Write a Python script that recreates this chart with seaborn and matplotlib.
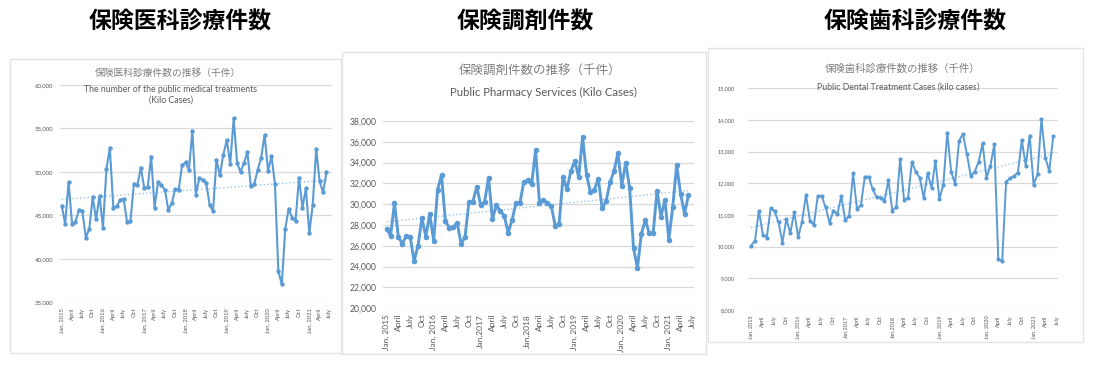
##
# Monthly public insurance case counts (medical, pharmacy, dental), Jan 2015 - Jun 2021
# Three Excel-style line charts with a linear trend line each
##

import numpy as np
import pandas as pd
import matplotlib

matplotlib.use("Agg")
import matplotlib.pyplot as plt
from matplotlib.patches import Rectangle
from matplotlib.ticker import FuncFormatter
import seaborn as sns

# Monthly values in thousands of cases, Jan 2015 .. Jun 2021
medical = [
    46100, 44050, 48800, 44050, 44250, 45650, 45500, 42450, 43400, 47100,
    44550, 47250, 43600, 50350, 52750, 45900, 46050, 46800, 46900, 44250,
    44400, 48650, 48500, 50500, 48150, 48250, 51750, 45900, 48850, 48450,
    47950, 45650, 46400, 48050, 47900, 50750, 51100, 50250, 54750, 47400,
    49250, 49100, 48750, 46250, 45450, 51400, 49600, 52000, 53650, 50900,
    56150, 51050, 50000, 51050, 52250, 48350, 48650, 50250, 51650, 54250,
    50100, 51800, 48650, 38600, 37050, 43450, 45750, 44750, 44400, 49350,
    45900, 48100, 42950, 46250, 52650, 48900, 47650, 49950,
]
pharmacy = [
    27650, 26950, 30100, 26850, 26200, 26950, 26900, 24550, 26000, 28650,
    26900, 29050, 26500, 31400, 32800, 28350, 27750, 27800, 28200, 26200,
    26850, 30200, 30250, 31700, 29900, 30250, 32550, 28600, 29900, 29350,
    28900, 27250, 28500, 30100, 30100, 32150, 32300, 31900, 35200, 30150,
    30450, 30100, 29850, 27950, 28100, 32600, 31450, 33200, 34150, 32600,
    36450, 32850, 31150, 31400, 32450, 29600, 30300, 32100, 33150, 34900,
    31800, 34000, 31550, 25750, 23900, 27150, 28500, 27200, 27250, 31300,
    28800, 30450, 26600, 29750, 33800, 31000, 29100, 30850,
]
dental = [
    10030, 10190, 11140, 10380, 10280, 11210, 11120, 10770, 10130, 10880,
    10420, 11100, 10300, 10790, 11640, 10820, 10680, 11600, 11600, 11240,
    10760, 11140, 11030, 11600, 10830, 10980, 12320, 11180, 11320, 12210,
    12210, 11810, 11560, 11550, 11440, 12100, 11140, 11240, 12770, 11470,
    11540, 12680, 12350, 12180, 11530, 12320, 11860, 12700, 11500, 11960,
    13600, 12370, 11980, 13340, 13560, 12920, 12240, 12370, 12680, 13260,
    12170, 12560, 13230, 9610, 9540, 12050, 12160, 12230, 12340, 13360,
    12560, 13500, 11960, 12280, 14030, 12810, 12390, 13480,
]

big_titles = ["保険医科診療件数", "保険調剤件数", "保険歯科診療件数"]
jp_titles = ["保険医科診療件数の推移（千件）", "保険調剤件数の推移（千件）", "保険歯科診療件数の推移（千件）"]
en_titles = [
    "The number of the public medical treatments\n(Kilo Cases)",
    "Public Pharmacy Services (Kilo Cases)",
    "Public Dental Treatment Cases (kilo cases）",
]

# January tick labels as written in each chart, other quarters share names
jan_labels = [
    ["Jan, 2015", "Jan, 2016", "Jan, 2017", "Jan, 2018", "Jan, 2019", "Jan, 2020", "Jan, 2021"],
    ["Jan, 2015", "Jan, 2016", "Jan,2017", "Jan,2018", "Jan, 2019", "Jan., 2020", "Jan, 2021"],
    ["Jan, 2015", "Jan, 2016", "Jan,2017", "Jan,2018", "Jan, 2019", "Jan, 2020", "Jan, 2021"],
]
quarter_labels = ["April", "July", "Oct"]

y_ticks = [
    [35000, 40000, 45000, 50000, 55000, 60000],
    [20000, 22000, 24000, 26000, 28000, 30000, 32000, 34000, 36000, 38000],
    [8000, 9000, 10000, 11000, 12000, 13000, 14000, 15000],
]

# Layout of each panel (pixels of a 1095x367 figure)
W, H = 1095, 367
panels = [
    dict(axes=(60, 85, 332, 302.3), xlim=(-0.5, 78.6), frame=(10, 59, 341, 353),
         big_x=180, jp=(168, 73, 7), en=(171, 95, 6.3), tick=4.3, xtick=4.2, ypad=5,
         lw=1.5, ms=3.2),
    dict(axes=(383.3, 121, 694.3, 308.3), xlim=(-0.85, 78.5), frame=(342, 52, 706, 354),
         big_x=525, jp=(540, 71, 9), en=(543, 92, 8.2), tick=6.2, xtick=6.0, ypad=5,
         lw=2.1, ms=4.0),
    dict(axes=(748.3, 88.3, 1058.3, 310), xlim=(-0.7, 78.3), frame=(708, 48, 1083, 342),
         big_x=915, jp=(903, 68.5, 7.5), en=(901, 87.5, 6.3), tick=4.0, xtick=4.0, ypad=10,
         lw=1.4, ms=3.0),
]

sns.set_style("white")
plt.rcParams["font.family"] = ["Lato", "Noto Sans CJK JP", "DejaVu Sans"]

line_color = "#5B9BD5"
trend_color = "#9DC3E6"
grid_color = "#D9D9D9"
text_gray = "#7F7F7F"

fig = plt.figure(figsize=(W / 100, H / 100), dpi=100)
fig.patch.set_facecolor("white")

series = [medical, pharmacy, dental]
months = np.arange(len(medical))

for k, (vals, p) in enumerate(zip(series, panels)):
    # chart frame
    fx0, fy0, fx1, fy1 = p["frame"]
    fig.add_artist(Rectangle((fx0 / W, 1 - fy1 / H), (fx1 - fx0) / W, (fy1 - fy0) / H,
                             transform=fig.transFigure, fill=False,
                             edgecolor="#E3E3E3", linewidth=1.0))

    # big heading above each chart
    fig.text(p["big_x"] / W, 1 - 22 / H, big_titles[k], ha="center", va="center",
             fontsize=16.5, fontweight="bold", color="black",
             family=["Noto Sans CJK JP", "DejaVu Sans"])

    # chart titles
    jx, jy, js = p["jp"]
    fig.text(jx / W, 1 - jy / H, jp_titles[k], ha="center", va="center",
             fontsize=js, color=text_gray, family=["Noto Sans CJK JP", "DejaVu Sans"])
    ex, ey, es = p["en"]
    fig.text(ex / W, 1 - ey / H, en_titles[k], ha="center", va="center",
             fontsize=es, color="#595959", linespacing=1.3,
             family=["Lato", "Noto Sans CJK JP", "DejaVu Sans"])

    ax0, ay0, ax1, ay1 = p["axes"]
    ax = fig.add_axes([ax0 / W, 1 - ay1 / H, (ax1 - ax0) / W, (ay1 - ay0) / H])
    ax.set_facecolor("none")

    df = pd.DataFrame({"month": months, "cases": vals})

    # linear trend line (Excel style, dotted)
    coef = np.polyfit(df["month"], df["cases"], 1)
    ax.plot(df["month"], np.polyval(coef, df["month"]), linestyle=":",
            color=trend_color, linewidth=1.0, zorder=2)

    sns.lineplot(data=df, x="month", y="cases", ax=ax, color=line_color,
                 linewidth=p["lw"], marker="o", markersize=p["ms"],
                 markeredgewidth=0, zorder=3)

    ax.set_ylim(y_ticks[k][0], y_ticks[k][-1])
    ax.set_yticks(y_ticks[k])
    ax.yaxis.set_major_formatter(FuncFormatter(lambda v, pos: f"{int(v):,}"))
    ax.set_xlim(*p["xlim"])

    labels = []
    for jan in jan_labels[k]:
        labels += [jan] + quarter_labels
    labels = labels[:27]
    ax.set_xticks(np.arange(0, 81, 3))
    ax.set_xticklabels(labels, rotation=90)

    ax.grid(axis="y", color=grid_color, linewidth=0.9)
    ax.grid(axis="x", visible=False)
    ax.set_axisbelow(True)
    for s in ax.spines.values():
        s.set_visible(False)
    ax.tick_params(axis="y", length=0, pad=p["ypad"], labelsize=p["tick"], labelcolor="#595959")
    ax.tick_params(axis="x", length=0, pad=4, labelsize=p["xtick"], labelcolor="#595959")
    ax.set_xlabel("")
    ax.set_ylabel("")

plt.savefig("out.png", dpi=100)
